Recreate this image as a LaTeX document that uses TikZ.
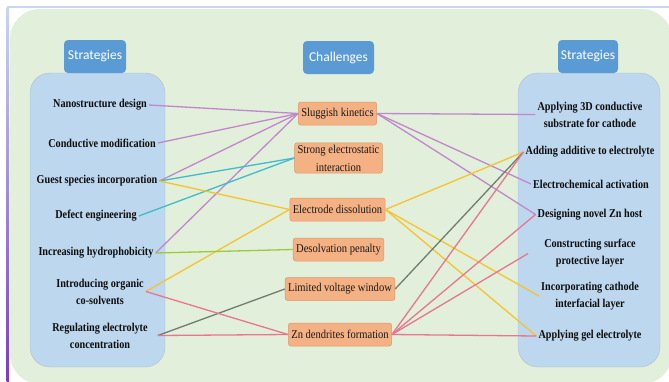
\documentclass[tikz,border=0pt]{standalone}
\usepackage{fontspec}
\setmainfont{Liberation Serif}
\newfontfamily\itemfont[FakeStretch=0.85]{Liberation Serif}
\newfontfamily\chalfont[FakeStretch=0.88]{Liberation Serif}
\newfontfamily\headfont{Carlito}

\definecolor{bgGreen}{HTML}{E2EFDA}
\definecolor{panelBlue}{HTML}{BDD7EE}
\definecolor{headBlue}{HTML}{5B9BD5}
\definecolor{boxOrange}{HTML}{F4B183}
\definecolor{boxEdge}{HTML}{D99A6C}
\definecolor{cPurple}{HTML}{C088CC}
\definecolor{cCyan}{HTML}{3FBCCB}
\definecolor{cYellow}{HTML}{F5C330}
\definecolor{cGreen}{HTML}{9BCB3C}
\definecolor{cGray}{HTML}{6F7D6F}
\definecolor{cPink}{HTML}{E8768E}
\definecolor{frameBlue}{HTML}{C9D6F2}
\definecolor{framePurple}{HTML}{7A3DBE}

\begin{document}
\begin{tikzpicture}[x=1pt,y=-1pt,
  header/.style={fill=headBlue, rounded corners=4pt, text=white,
    font=\headfont\fontsize{13.5}{15}\selectfont, minimum height=33pt, inner sep=0pt},
  panel/.style={fill=panelBlue, draw=panelBlue!75!gray, line width=0.4pt, rounded corners=20pt},
  item/.style={font=\itemfont\bfseries\fontsize{12}{17}\selectfont, align=center,
    text=black!95, inner sep=2pt},
  chal/.style={fill=boxOrange, draw=boxEdge, line width=0.5pt, rounded corners=2.5pt,
    font=\chalfont\fontsize{12}{18}\selectfont, align=center, inner xsep=3pt,
    inner ysep=2pt, minimum height=23pt, text=black!90},
  link/.style={line width=1.3pt}
]
\useasboundingbox (0,0) rectangle (669,381);
\fill[white] (0,0) rectangle (669,381);
\fill[bgGreen, rounded corners=30pt] (10,9) rectangle (672,384);
\draw[frameBlue, line width=1.2pt] (7,7) -- (669,7);
\shade[top color=frameBlue, middle color=frameBlue!45!framePurple, bottom color=framePurple] (6.5,7) rectangle (9,381);

% panels
\filldraw[panel] (30,73) rectangle (165,367);
\filldraw[panel] (518,73) rectangle (660,367);

% headers
\node[header, minimum width=62pt] (hL) at (95,56.5) {Strategies};
\node[header, minimum width=71pt] (hC) at (338.5,57.5) {Challenges};
\node[header, minimum width=60pt] (hR) at (588,56.5) {Strategies};

% left strategies
\node[item] (l1) at (100,105) {Nanostructure design};
\node[item] (l2) at (102,143) {Conductive modification};
\node[item] (l3) at (97,181) {Guest species incorporation};
\node[item] (l4) at (96,216) {Defect engineering};
\node[item] (l5) at (96,253) {Increasing hydrophobicity};
\node[item] (l6) at (100,291.5) {Introducing organic\\co-solvents};
\node[item] (l7) at (100,335.5) {Regulating electrolyte\\concentration};

% challenges
\node[chal] (c1) at (337.5,113.5) {Sluggish kinetics};
\node[chal] (c2) at (338.5,158) {Strong electrostatic\\interaction};
\node[chal] (c3) at (337.5,209.5) {Electrode dissolution};
\node[chal] (c4) at (338.5,249.5) {Desolvation penalty};
\node[chal] (c5) at (340,289) {Limited voltage window};
\node[chal] (c6) at (340,334.5) {Zn dendrites formation};

% right strategies
\node[item] (r1) at (590,114.5) {Applying 3D conductive\\substrate for cathode};
\node[item] (r2) at (590,152) {Adding additive to electrolyte};
\node[item] (r3) at (591,184) {Electrochemical activation};
\node[item] (r4) at (590,214.5) {Designing novel Zn host};
\node[item] (r5) at (590,253.5) {Constructing surface\\protective layer};
\node[item] (r6) at (590,296) {Incorporating cathode\\interfacial layer};
\node[item] (r7) at (590,336) {Applying gel electrolyte};

\coordinate (l7e) at ([xshift=8pt]l7.east);
\coordinate (r5w) at ([xshift=-14pt]r5.west);

% connectors left -> challenges
\draw[link, cPurple] (l1.east) -- (c1.west);
\draw[link, cPurple] (l2.east) -- (c1.west);
\draw[link, cPurple] (l3.east) -- (c1.west);
\draw[link, cPurple] (l5.east) -- (c1.west);
\draw[link, cCyan] (l3.east) -- (c2.west);
\draw[link, cCyan] (l4.east) -- (c2.west);
\draw[link, cYellow] (l3.east) -- (c3.west);
\draw[link, cYellow] (l6.east) -- (c3.west);
\draw[link, cGreen] (l5.east) -- (c4.west);
\draw[link, cGray] (l7e) -- (c5.west);
\draw[link, cPink] (l6.east) -- (c6.west);
\draw[link, cPink] (l7e) -- (c6.west);

% connectors challenges -> right
\draw[link, cPurple] (c1.east) -- (r1.west);
\draw[link, cPurple] (c1.east) -- (r3.west);
\draw[link, cPurple] (c1.east) -- (r4.west);
\draw[link, cYellow] (c3.east) -- (r2.west);
\draw[link, cYellow] (c3.east) -- (r6.west);
\draw[link, cYellow] (c3.east) -- (r7.west);
\draw[link, cGray] (c5.east) -- (r2.west);
\draw[link, cPink] (c6.east) -- (r2.west);
\draw[link, cPink] (c6.east) -- (r4.west);
\draw[link, cPink] (c6.east) -- (r5w);
\draw[link, cPink] (c6.east) -- (r7.west);
\end{tikzpicture}
\end{document}
